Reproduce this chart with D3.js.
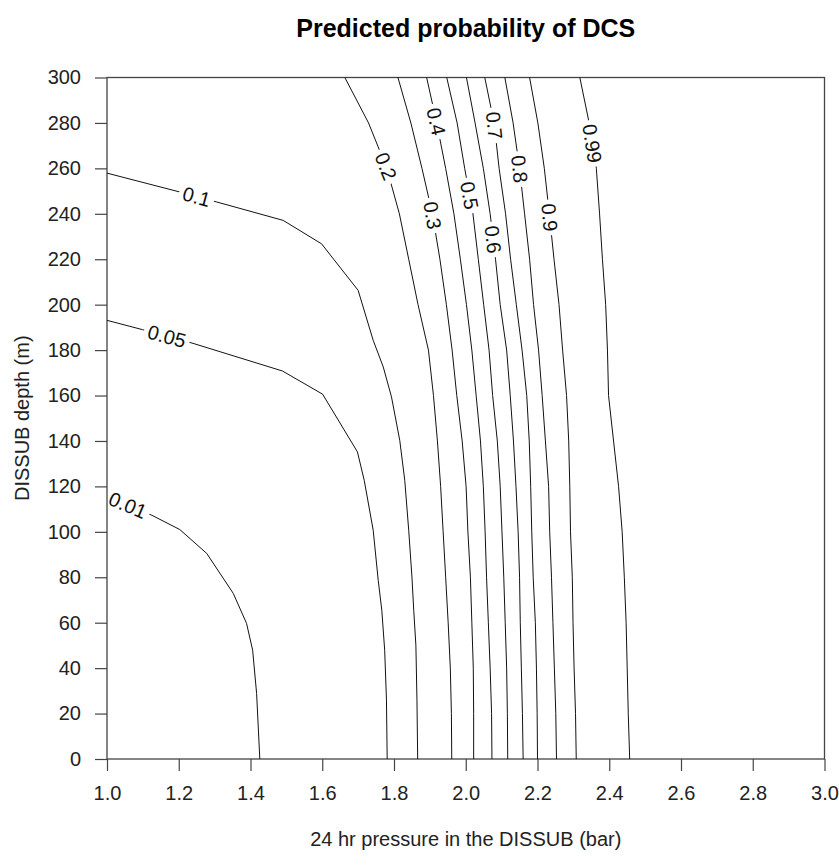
<!DOCTYPE html>
<html>
<head>
<meta charset="utf-8">
<script src="https://cdn.jsdelivr.net/npm/d3@7"></script>
<style>
  body { margin: 0; background: #fff; }
  text { font-family: "Liberation Sans", Arial, sans-serif; }
</style>
</head>
<body>
<div id="graf"></div>
<script>
// niveles de contorno
const levels = [0.01, 0.05, 0.1, 0.2, 0.3, 0.4, 0.5, 0.6, 0.7, 0.8, 0.9, 0.99]

// ticks
const xTicks = [1.0, 1.2, 1.4, 1.6, 1.8, 2.0, 2.2, 2.4, 2.6, 2.8, 3.0]
const yTicks = [0, 20, 40, 60, 80, 100, 120, 140, 160, 180, 200, 220, 240, 260, 280, 300]

// contornos que salen por arriba: presion en cada profundidad de depthGrid
const depthGrid = [300, 280, 260, 240, 220, 200, 180, 160, 140, 120, 100, 80, 60, 40, 20, 0]
const pres02 = [1.663, 1.729, 1.780, 1.815, 1.841, 1.867, 1.896, 1.910, 1.921, 1.930, 1.937, 1.944, 1.951, 1.957, 1.960, 1.961]
const pres03 = [1.811, 1.847, 1.878, 1.907, 1.928, 1.946, 1.962, 1.975, 1.990, 2.001, 2.006, 2.013, 2.017, 2.021, 2.022, 2.022]
const pres04 = [1.891, 1.919, 1.944, 1.967, 1.985, 2.002, 2.017, 2.029, 2.041, 2.049, 2.054, 2.058, 2.063, 2.068, 2.072, 2.073]
const pres05 = [1.947, 1.976, 1.997, 2.020, 2.035, 2.050, 2.065, 2.075, 2.088, 2.096, 2.101, 2.106, 2.110, 2.114, 2.116, 2.117]
const pres06 = [2.002, 2.026, 2.049, 2.068, 2.083, 2.096, 2.114, 2.124, 2.133, 2.140, 2.146, 2.150, 2.152, 2.155, 2.158, 2.160]
const pres07 = [2.053, 2.079, 2.093, 2.111, 2.125, 2.141, 2.157, 2.170, 2.177, 2.181, 2.184, 2.188, 2.194, 2.197, 2.199, 2.200]
const pres08 = [2.109, 2.132, 2.150, 2.164, 2.178, 2.189, 2.203, 2.213, 2.222, 2.231, 2.234, 2.239, 2.243, 2.247, 2.251, 2.253]
const pres09 = [2.178, 2.201, 2.219, 2.233, 2.246, 2.260, 2.270, 2.281, 2.287, 2.290, 2.292, 2.297, 2.299, 2.302, 2.306, 2.308]
const pres099 = [2.318, 2.344, 2.364, 2.373, 2.381, 2.390, 2.395, 2.398, 2.412, 2.426, 2.436, 2.442, 2.447, 2.450, 2.453, 2.457]

// contornos que salen por la izquierda
const pres001 = [1.0, 1.125, 1.203, 1.278, 1.352, 1.389, 1.406, 1.417, 1.426]
const dep001 = [115.7, 107.3, 101.0, 90.5, 72.9, 59.7, 47.9, 28.9, 0]
const pres005 = [1.0, 1.099, 1.237, 1.489, 1.601, 1.698, 1.717, 1.742, 1.756, 1.766, 1.774, 1.779, 1.781]
const dep005 = [193.1, 189.0, 183.1, 170.8, 160.6, 135.2, 122.7, 100.7, 78.7, 65.5, 47.9, 26.0, 0]
const pres01 = [1.0, 1.203, 1.306, 1.491, 1.598, 1.700, 1.742, 1.770, 1.793, 1.816, 1.830, 1.841, 1.850, 1.855, 1.861, 1.864, 1.866]
const dep01 = [257.9, 249.6, 245.2, 237.1, 226.8, 206.3, 184.3, 172.6, 159.4, 140.3, 122.7, 100.7, 80.1, 65.5, 50.1, 26.0, 0]

// profundidad donde va la etiqueta de cada contorno
const labelDepth = [111.8, 186.1, 247.6, 260.9, 239.3, 280.6, 248.1, 228.7, 278.9, 259.7, 238.4, 271.0]

const zip = (xs, ys) => xs.map((v, i) => [v, ys[i]])
const lineas = [
  zip(pres001, dep001),
  zip(pres005, dep005),
  zip(pres01, dep01),
  zip(pres02, depthGrid),
  zip(pres03, depthGrid),
  zip(pres04, depthGrid),
  zip(pres05, depthGrid),
  zip(pres06, depthGrid),
  zip(pres07, depthGrid),
  zip(pres08, depthGrid),
  zip(pres09, depthGrid),
  zip(pres099, depthGrid),
]

const anchoTotal = 839
const altoTotal = 865

const margin = {
  top: 77.5,
  bottom: 106,
  left: 107,
  right: 14.5,
}

const ancho = anchoTotal - margin.left - margin.right
const alto = altoTotal - margin.top - margin.bottom

const svg = d3.select('#graf')
  .append('svg')
  .attr('width', anchoTotal)
  .attr('height', altoTotal)

const g = svg
  .append('g')
  .attr('transform', `translate(${margin.left}, ${margin.top})`)

const x = d3.scaleLinear().domain([1, 3]).range([0, ancho])
const y = d3.scaleLinear().domain([0, 300]).range([alto, 0])

// ejes
const xAxisGroup = g.append('g')
  .attr('transform', `translate(0, ${alto})`)
  .call(d3.axisBottom(x).tickValues(xTicks).tickFormat(d3.format('.1f')).tickSize(12).tickSizeOuter(0).tickPadding(15))

const yAxisGroup = g.append('g')
  .call(d3.axisLeft(y).tickValues(yTicks).tickSize(12).tickSizeOuter(0).tickPadding(14))

g.selectAll('.tick line').attr('stroke', '#444').attr('stroke-width', 1.2)
g.selectAll('.domain').attr('stroke', 'none')
g.selectAll('.tick text')
  .attr('font-size', 20)
  .attr('fill', '#222')
  .attr('font-family', '"Liberation Sans", Arial, sans-serif')

// caja
g.append('rect')
  .attr('x', 0).attr('y', 0)
  .attr('width', ancho).attr('height', alto)
  .attr('fill', 'none')
  .attr('stroke', '#444')
  .attr('stroke-width', 1.3)

// etiquetas de contorno
const pts = lineas.map(l => l.map(d => [x(d[0]), y(d[1])]))
const etiquetas = pts.map((p, i) => {
  const dep = labelDepth[i]
  const py = y(dep)
  let k = 0
  while (k < p.length - 2 && p[k + 1][1] < py) k++
  const a = p[k], b = p[k + 1]
  const t = (py - a[1]) / (b[1] - a[1])
  const cx = a[0] + t * (b[0] - a[0])
  let ang = Math.atan2(b[1] - a[1], b[0] - a[0]) * 180 / Math.PI
  if (ang > 90) ang -= 180
  if (ang < -90) ang += 180
  return { cx, cy: py, ang, txt: String(levels[i]) }
})

const mask = svg.append('defs').append('mask')
  .attr('id', 'huecos')
  .attr('maskUnits', 'userSpaceOnUse')
  .attr('x', 0).attr('y', 0).attr('width', anchoTotal).attr('height', altoTotal)
mask.append('rect')
  .attr('x', 0).attr('y', 0).attr('width', anchoTotal).attr('height', altoTotal)
  .attr('fill', 'white')

const labG = g.append('g')
const textos = labG.selectAll('text')
  .data(etiquetas)
  .enter()
  .append('text')
  .attr('transform', d => `translate(${d.cx}, ${d.cy}) rotate(${d.ang})`)
  .attr('text-anchor', 'middle')
  .attr('dy', '0.36em')
  .attr('font-size', 20)
  .attr('fill', '#111')
  .text(d => d.txt)

textos.each(function (d) {
  const w = this.getComputedTextLength() + 8
  mask.append('rect')
    .attr('x', -w / 2).attr('y', -8)
    .attr('width', w).attr('height', 16)
    .attr('fill', 'black')
    .attr('transform', `translate(${margin.left + d.cx}, ${margin.top + d.cy}) rotate(${d.ang})`)
})

// lineas de contorno
const linea = d3.line()
  .x(d => x(d[0]))
  .y(d => y(d[1]))

svg.append('g')
  .attr('mask', 'url(#huecos)')
  .append('g')
  .attr('transform', `translate(${margin.left}, ${margin.top})`)
  .selectAll('path')
  .data(lineas)
  .enter()
  .append('path')
  .attr('d', linea)
  .attr('fill', 'none')
  .attr('stroke', '#111')
  .attr('stroke-width', 1)

// titulos
svg.append('text')
  .attr('x', margin.left + ancho / 2)
  .attr('y', 37)
  .attr('text-anchor', 'middle')
  .attr('font-size', 25)
  .attr('font-weight', 'bold')
  .attr('fill', '#000')
  .text('Predicted probability of DCS')

svg.append('text')
  .attr('x', margin.left + ancho / 2)
  .attr('y', 846)
  .attr('text-anchor', 'middle')
  .attr('font-size', 20)
  .attr('fill', '#222')
  .text('24 hr pressure in the DISSUB (bar)')

svg.append('text')
  .attr('transform', `translate(29, ${margin.top + alto / 2}) rotate(-90)`)
  .attr('text-anchor', 'middle')
  .attr('font-size', 20)
  .attr('fill', '#222')
  .text('DISSUB depth (m)')
</script>
</body>
</html>
